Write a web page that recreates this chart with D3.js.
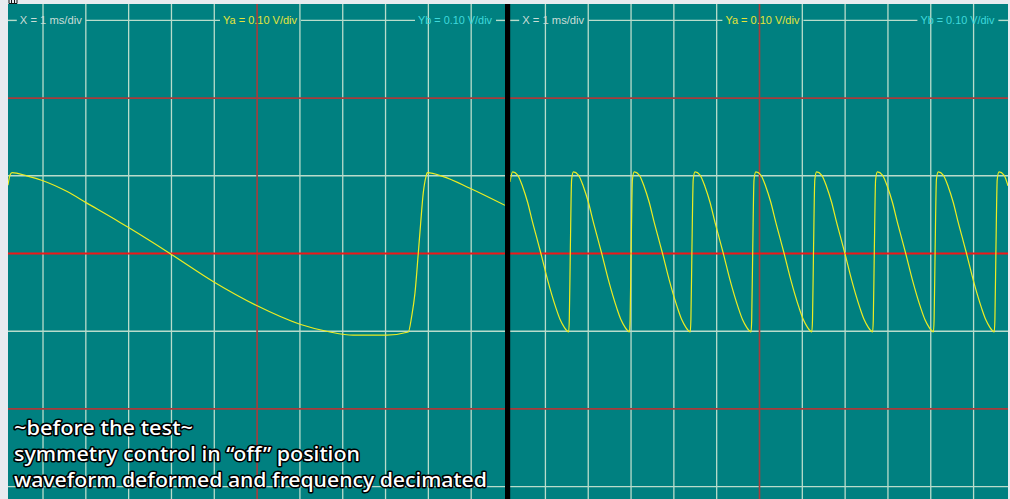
<!DOCTYPE html>
<html>
<head>
<meta charset="utf-8">
<script src="https://cdn.jsdelivr.net/npm/d3@7"></script>
<style>
  body { margin: 0; background: #e8ebef; }
  svg { display: block; }
</style>
</head>
<body>
<svg id="scope"></svg>
<script>
const width = 1010;
const height = 499;

// graticule: 1 ms/div across, 0.10 V/div up
const timeTicks = [1, 2, 3, 4, 5, 6, 7, 8, 9, 10, 11];
const voltTicks = [-0.3, -0.1, 0.1, 0.3];
const redVolts = [-0.2, 0.2];
const centerTime = 6;
const centerVolt = 0;

const xLabel = "X  = 1 ms/div";
const yaLabel = "Ya = 0.10 V/div";
const ybLabel = "Yb = 0.10 V/div";

const captionLines = [
  "~before the test~",
  "symmetry control in \u201coff\u201d position",
  "waveform deformed and frequency decimated"
];

// left screen trace (ms, V)
const leftTime = [0.182, 0.229, 0.276, 0.619, 0.983, 1.553, 2.004, 2.798, 3.008, 3.965,
  5.000, 5.990, 7.001, 7.702, 8.239, 9.026, 9.531, 9.610, 9.687, 9.764, 9.820, 9.881, 9.944,
  9.974, 10.348, 10.971, 11.789];
const leftVolt = [0.088, 0.101, 0.104, 0.100, 0.094, 0.080, 0.0655, 0.040, 0.033, 0.000,
  -0.037, -0.067, -0.091, -0.101, -0.105, -0.105, -0.101, -0.081, -0.051, 0.000, 0.039, 0.078, 0.099,
  0.104, 0.099, 0.084, 0.062];

// right screen trace (ms, V)
const rightTime = [0.173,
  0.234, 0.351, 0.468, 0.584, 0.701, 0.818, 0.895, 1.051, 1.245, 1.343, 1.441, 1.495, 1.542, 1.558, 1.582, 1.612,
  1.654, 1.771, 1.888, 2.004, 2.121, 2.238, 2.315, 2.471, 2.665, 2.763, 2.861, 2.915, 2.962, 2.978, 3.002, 3.032,
  3.074, 3.191, 3.308, 3.424, 3.541, 3.658, 3.735, 3.891, 4.085, 4.183, 4.281, 4.335, 4.382, 4.398, 4.422, 4.452,
  4.494, 4.611, 4.728, 4.844, 4.961, 5.078, 5.155, 5.311, 5.505, 5.603, 5.701, 5.755, 5.802, 5.818, 5.842, 5.872,
  5.914, 6.031, 6.148, 6.264, 6.381, 6.498, 6.575, 6.731, 6.925, 7.023, 7.121, 7.175, 7.222, 7.238, 7.262, 7.292,
  7.334, 7.451, 7.568, 7.684, 7.801, 7.918, 7.995, 8.151, 8.345, 8.443, 8.541, 8.595, 8.642, 8.658, 8.682, 8.712,
  8.754, 8.871, 8.988, 9.104, 9.221, 9.338, 9.415, 9.571, 9.765, 9.863, 9.961, 10.015, 10.062, 10.078, 10.102, 10.132,
  10.174, 10.291, 10.408, 10.524, 10.641, 10.758, 10.835, 10.991, 11.185, 11.283, 11.381, 11.435, 11.482, 11.498, 11.522, 11.552,
  11.594, 11.711, 11.804];
const rightVolt = [0.092,
  0.105, 0.101, 0.086, 0.066, 0.040, 0.016, 0.000, -0.034, -0.070, -0.085, -0.095, -0.099, -0.101, -0.085, 0.005, 0.095,
  0.105, 0.101, 0.086, 0.066, 0.040, 0.016, 0.000, -0.034, -0.070, -0.085, -0.095, -0.099, -0.101, -0.085, 0.005, 0.095,
  0.105, 0.101, 0.086, 0.066, 0.040, 0.016, 0.000, -0.034, -0.070, -0.085, -0.095, -0.099, -0.101, -0.085, 0.005, 0.095,
  0.105, 0.101, 0.086, 0.066, 0.040, 0.016, 0.000, -0.034, -0.070, -0.085, -0.095, -0.099, -0.101, -0.085, 0.005, 0.095,
  0.105, 0.101, 0.086, 0.066, 0.040, 0.016, 0.000, -0.034, -0.070, -0.085, -0.095, -0.099, -0.101, -0.085, 0.005, 0.095,
  0.105, 0.101, 0.086, 0.066, 0.040, 0.016, 0.000, -0.034, -0.070, -0.085, -0.095, -0.099, -0.101, -0.085, 0.005, 0.095,
  0.105, 0.101, 0.086, 0.066, 0.040, 0.016, 0.000, -0.034, -0.070, -0.085, -0.095, -0.099, -0.101, -0.085, 0.005, 0.095,
  0.105, 0.101, 0.086, 0.066, 0.040, 0.016, 0.000, -0.034, -0.070, -0.085, -0.095, -0.099, -0.101, -0.085, 0.005, 0.095,
  0.105, 0.101, 0.087];

const svg = d3.select("#scope")
  .attr("width", width)
  .attr("height", height);

const x = d3.scaleLinear().domain([0, 12]).range([0, 513.8]);
const y = d3.scaleLinear().domain([-0.3, 0.3]).range([486.6, 20.4]);

const panels = [
  {id: "left", offset: 0.2, clip: [7.8, 504.8], time: leftTime, volt: leftVolt},
  {id: "right", offset: 502.6, clip: [7.4, 505.4], time: rightTime, volt: rightVolt}
];

// label boxes on the top graticule line (panel px)
const labels = [
  {text: xLabel, x: 19.6, w: 62, color: "#c9ddd6"},
  {text: yaLabel, x: 222.8, w: 74, color: "#e4e43a"},
  {text: ybLabel, x: 417.8, w: 74, color: "#3fd9dc"}
];

const gridColor = "#b9dccb";

panels.forEach(p => {
  const g = svg.append("g")
    .attr("transform", `translate(${p.offset},0)`);

  g.append("clipPath")
    .attr("id", "clip-" + p.id)
    .append("rect")
    .attr("x", p.clip[0])
    .attr("y", 4)
    .attr("width", p.clip[1] - p.clip[0])
    .attr("height", height - 4);

  const screen = g.append("g").attr("clip-path", `url(#clip-${p.id})`);

  screen.append("rect")
    .attr("x", p.clip[0])
    .attr("y", 4)
    .attr("width", p.clip[1] - p.clip[0])
    .attr("height", height - 4)
    .attr("fill", "#008080");

  // horizontal light lines (top one broken by the labels)
  voltTicks.forEach(v => {
    if (v === 0.3) {
      const edges = [p.clip[0]];
      labels.forEach(l => { edges.push(l.x - 3, l.x + l.w + 4); });
      edges.push(p.clip[1]);
      for (let i = 0; i < edges.length; i += 2) {
        screen.append("line")
          .attr("x1", edges[i]).attr("x2", edges[i + 1])
          .attr("y1", y(v)).attr("y2", y(v))
          .attr("stroke", gridColor).attr("stroke-width", 1.4);
      }
    } else {
      screen.append("line")
        .attr("x1", 0).attr("x2", x(12))
        .attr("y1", y(v)).attr("y2", y(v))
        .attr("stroke", gridColor).attr("stroke-width", 1.4);
    }
  });

  screen.selectAll(".vgrid")
    .data(timeTicks.filter(t => t !== centerTime))
    .enter()
    .append("line")
    .attr("class", "vgrid")
    .attr("x1", d => x(d)).attr("x2", d => x(d))
    .attr("y1", 0).attr("y2", height)
    .attr("stroke", gridColor)
    .attr("stroke-width", 1.3);

  screen.selectAll(".redh")
    .data(redVolts)
    .enter()
    .append("line")
    .attr("class", "redh")
    .attr("x1", 0).attr("x2", x(12))
    .attr("y1", d => y(d)).attr("y2", d => y(d))
    .attr("stroke", "#a93b3b")
    .attr("stroke-width", 1.6);

  screen.append("line")
    .attr("x1", x(centerTime)).attr("x2", x(centerTime))
    .attr("y1", 0).attr("y2", height)
    .attr("stroke", "#a93b3b")
    .attr("stroke-width", 1.6);

  screen.append("line")
    .attr("x1", 0).attr("x2", x(12))
    .attr("y1", y(centerVolt)).attr("y2", y(centerVolt))
    .attr("stroke", "#f01818")
    .attr("stroke-width", 2.2);

  screen.selectAll(".lbl")
    .data(labels)
    .enter()
    .append("text")
    .attr("class", "lbl")
    .attr("x", d => d.x)
    .attr("y", y(0.3) + 3.8)
    .attr("textLength", d => d.w)
    .attr("lengthAdjust", "spacingAndGlyphs")
    .attr("font-family", "Liberation Sans, Arial, sans-serif")
    .attr("font-size", "11px")
    .attr("fill", d => d.color)
    .text(d => d.text);

  const pts = p.time.map((t, i) => [t, p.volt[i]]);
  const line = d3.line()
    .x(d => x(d[0]))
    .y(d => y(d[1]))
    .curve(d3.curveMonotoneX);

  screen.append("path")
    .datum(pts)
    .attr("d", line)
    .attr("fill", "none")
    .attr("stroke", "#ecec22")
    .attr("stroke-width", 1.2);
});

// divider between the two screens
svg.append("rect")
  .attr("x", 505)
  .attr("y", 4)
  .attr("width", 5.2)
  .attr("height", height - 4)
  .attr("fill", "#000");

// small window icon at the top left
svg.append("path")
  .attr("d", "M9,0V3.5H17V0M11.5,0V3M14.5,0V3")
  .attr("fill", "none")
  .attr("stroke", "#111")
  .attr("stroke-width", 1);

// caption
svg.selectAll(".caption")
  .data(captionLines)
  .enter()
  .append("text")
  .attr("class", "caption")
  .attr("x", 14)
  .attr("y", (d, i) => 435 + i * 26)
  .attr("textLength", (d, i) => [179, 346, 473][i])
  .attr("lengthAdjust", "spacingAndGlyphs")
  .attr("font-family", "Noto Sans, sans-serif")
  .attr("font-size", "20px")
  .attr("font-weight", 500)
  .attr("fill", "#fff")
  .attr("stroke", "#000")
  .attr("stroke-width", 3)
  .attr("stroke-linejoin", "round")
  .attr("paint-order", "stroke")
  .text(d => d);
</script>
</body>
</html>
